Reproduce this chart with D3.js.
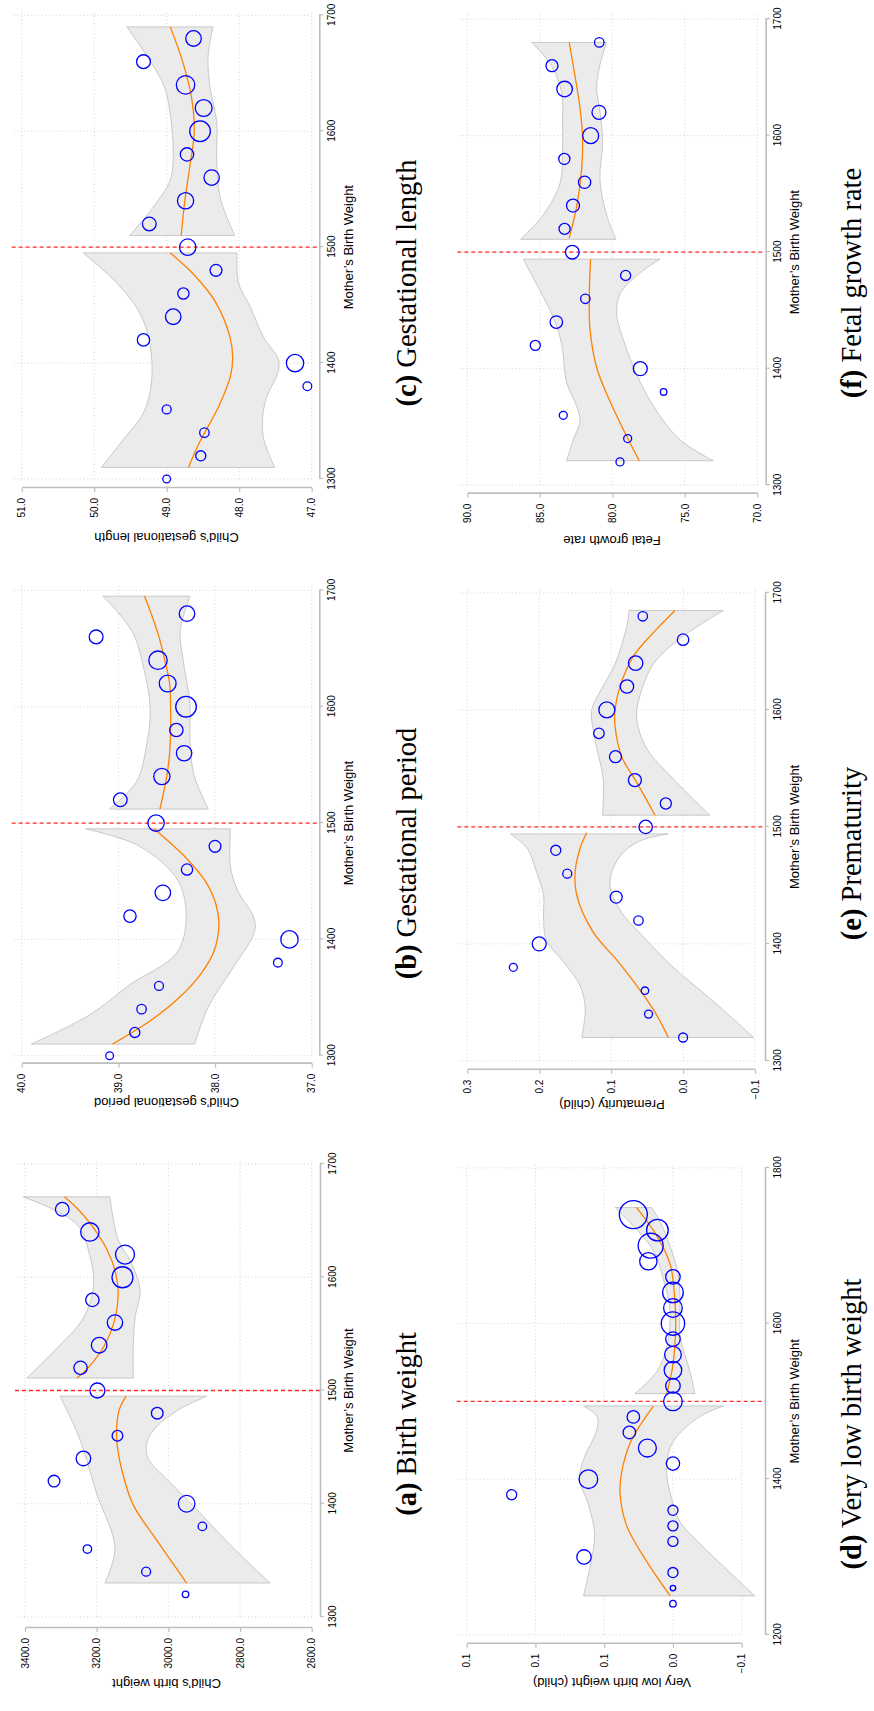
<!DOCTYPE html>
<html><head><meta charset="utf-8">
<script src="https://cdn.jsdelivr.net/npm/d3@7"></script>
<style>body{margin:0;background:#fff} svg{display:block}</style>
</head><body>
<svg id="fig" width="874" height="1711"></svg>
<script>
// ---------------- DATA ----------------
const xTicksMain = [1300, 1400, 1500, 1600, 1700];
const xTicksD = [1200, 1400, 1600, 1800];
const cutoff = 1500;

const bins20 = [1300,1320,1340,1360,1380,1400,1420,1440,1460,1480,1500,1520,1540,1560,1580,1600,1620,1640,1660,1680];
const bins19 = bins20.slice(1);
const bins18 = bins20.slice(1, 19);
const bins26 = [1240,1260,1280,1300,1320,1340,1360,1380,1400,1420,1440,1460,1480,1500,1520,1540,1560,1580,1600,1620,1640,1660,1680,1700,1720,1740];
const countsCommon = [14,24,21,19,18,71,36,57,30,33,63,44,62,56,42,100,67,80,45,57];

// (a) Birth weight
const yTicksA = [3400, 3200, 3000, 2800, 2600];
const yLabelsA = ["3400.0","3200.0","3000.0","2800.0","2600.0"];
const valuesA = [2952,3062,3226,2905,2949,3319,3237,3142,3031,3198,3245,3193,3149,3212,3128,3121,3219,3296];
const countsA = [10,19,17,17,65,32,50,27,32,53,42,57,56,42,104,85,80,44];
const fitLeftA = [[1330,2949],[1368,3033],[1399,3098],[1430,3130],[1457,3144],[1482,3138],[1495,3118]];
const fitRightA = [[1511,3255],[1520,3224],[1540,3178],[1560,3152],[1585,3140],[1605,3148],[1625,3172],[1645,3212],[1660,3252],[1671,3290]];
const bandLeftUpA = [[1330,3177],[1361,3149],[1409,3200],[1444,3233],[1464,3256],[1495,3302]];
const bandLeftLoA = [[1330,2716],[1361,2819],[1392,2912],[1416,2986],[1440,3056],[1454,3060],[1468,3033],[1482,2977],[1495,2893]];
const bandRightUpA = [[1511,3395],[1537,3312],[1564,3237],[1592,3209],[1619,3219],[1647,3256],[1671,3405]];
const bandRightLoA = [[1511,3098],[1537,3098],[1564,3093],[1588,3079],[1612,3102],[1633,3140],[1671,3163]];

// (b) Gestational period
const yTicksB = [40, 39, 38, 37];
const yLabelsB = ["40.0","39.0","38.0","37.0"];
const valuesB = [39.09,38.83,38.76,38.58,37.35,37.23,38.88,38.54,38.29,38.00,38.61,38.98,38.55,38.32,38.40,38.30,38.49,38.59,39.23,38.29];
const fitLeftB = [[1310,39.06],[1330,38.67],[1350,38.37],[1370,38.15],[1390,38.01],[1413,37.96],[1430,37.99],[1450,38.10],[1470,38.30],[1495,38.63]];
const fitRightB = [[1512,38.57],[1540,38.50],[1560,38.47],[1580,38.46],[1600,38.46],[1620,38.47],[1640,38.52],[1660,38.58],[1680,38.66],[1695,38.73]];
const bandLeftUpB = [[1310,39.90],[1335,39.30],[1361,38.88],[1388,38.40],[1416,38.30],[1450,38.38],[1480,38.78],[1495,39.34]];
const bandLeftLoB = [[1310,38.21],[1342,38.07],[1376,37.81],[1407,37.59],[1419,37.60],[1441,37.76],[1462,37.84],[1495,37.84]];
const bandRightUpB = [[1512,39.09],[1536,38.81],[1566,38.71],[1597,38.67],[1634,38.74],[1665,38.86],[1695,39.16]];
const bandRightLoB = [[1512,38.07],[1542,38.22],[1573,38.26],[1603,38.26],[1640,38.33],[1665,38.36],[1695,38.26]];

// (c) Gestational length
const yTicksC = [51, 50, 49, 48, 47];
const yLabelsC = ["51.0","50.0","49.0","48.0","47.0"];
const valuesC = [49.00,48.53,48.48,49.00,47.06,47.23,49.32,48.91,48.77,48.32,48.71,49.24,48.74,48.38,48.72,48.54,48.49,48.74,49.32,48.63];
const fitLeftC = [[1310,48.70],[1330,48.56],[1363,48.28],[1389,48.12],[1405,48.09],[1423,48.13],[1453,48.33],[1476,48.62],[1495,48.95]];
const fitRightC = [[1510,48.80],[1540,48.75],[1570,48.68],[1600,48.62],[1630,48.66],[1660,48.78],[1690,48.95]];
const bandLeftUpC = [[1310,49.90],[1334,49.60],[1357,49.32],[1383,49.21],[1416,49.23],[1443,49.37],[1469,49.69],[1495,50.15]];
const bandLeftLoC = [[1310,47.51],[1337,47.67],[1367,47.64],[1393,47.46],[1403,47.46],[1423,47.67],[1449,47.85],[1469,48.01],[1495,48.03]];
const bandRightUpC = [[1510,49.51],[1535,49.18],[1558,48.95],[1581,48.91],[1614,48.95],[1641,49.05],[1690,49.55]];
const bandRightLoC = [[1510,48.06],[1542,48.26],[1575,48.31],[1608,48.31],[1637,48.40],[1664,48.43],[1690,48.36]];

// (d) Very low birth weight
const yTicksD = [0.15, 0.10, 0.05, 0.00, -0.05];
const yLabelsD = ["0.1","0.1","0.1","0.0","\u22120.1"];
const valuesD = [0,0,0,0.0647,0,0,0,0.1173,0.0615,0,0.0186,0.0317,0.0288,0,0,0,0,0,0,0,0,0,0.0179,0.0162,0.0113,0.0288];
const countsD = [10,7,24,49,24,24,24,24,82,42,76,37,37,82,50,73,65,50,129,82,100,50,71,147,110,185];
const fitLeftD = [[1250,0.002],[1294,0.019],[1340,0.0336],[1382,0.0385],[1409,0.0373],[1446,0.0312],[1469,0.024],[1494,0.0142]];
const fitRightD = [[1510,0.0045],[1547,0.0],[1598,-0.002],[1639,-0.001],[1676,0.002],[1713,0.0118],[1749,0.0264]];
const bandLeftUpD = [[1250,0.065],[1290,0.060],[1330,0.057],[1370,0.062],[1400,0.068],[1430,0.064],[1460,0.056],[1480,0.055],[1494,0.065]];
const bandLeftLoD = [[1250,-0.0597],[1280,-0.0415],[1317,-0.0197],[1345,-0.0052],[1382,0.002],[1409,0.0045],[1441,0.002],[1464,-0.0076],[1483,-0.022],[1494,-0.0367]];
const bandRightUpD = [[1510,0.0276],[1538,0.0118],[1570,0.0045],[1616,0.0021],[1657,0.007],[1694,0.0142],[1749,0.042]];
const bandRightLoD = [[1510,-0.016],[1538,-0.0124],[1584,-0.0052],[1625,-0.0052],[1662,-0.004],[1699,0.002],[1731,0.0094],[1749,0.0155]];

// (e) Prematurity
const yTicksE = [0.3, 0.2, 0.1, 0.0, -0.1];
const yLabelsE = ["0.3","0.2","0.1","0.0","\u22120.1"];
const valuesE = [0.0,0.048,0.053,0.236,0.200,0.062,0.093,0.161,0.177,0.052,0.024,0.067,0.094,0.117,0.106,0.078,0.066,0.0,0.056];
const countsE = [19,15,13,15,46,21,34,19,24,42,29,40,34,26,60,42,49,31,21];
const fitLeftE = [[1320,0.0205],[1344,0.0414],[1383,0.0877],[1410,0.125],[1442,0.148],[1462,0.150],[1482,0.143],[1495,0.134]];
const fitRightE = [[1510,0.039],[1538,0.0645],[1560,0.0854],[1587,0.0947],[1600,0.0947],[1620,0.0877],[1646,0.069],[1669,0.0367],[1685,0.0112]];
const bandLeftUpE = [[1320,0.141],[1344,0.136],[1364,0.143],[1383,0.164],[1403,0.190],[1423,0.194],[1442,0.194],[1462,0.204],[1482,0.217],[1494,0.24]];
const bandLeftLoE = [[1320,-0.098],[1351,-0.042],[1380,0.0136],[1406,0.055],[1429,0.0877],[1452,0.102],[1475,0.0877],[1488,0.06],[1494,0.0205]];
const bandRightUpE = [[1510,0.112],[1541,0.111],[1573,0.122],[1600,0.127],[1616,0.115],[1639,0.0947],[1671,0.0785],[1685,0.075]];
const bandRightLoE = [[1510,-0.0374],[1541,0.0136],[1567,0.0506],[1593,0.0645],[1612,0.06],[1639,0.0414],[1661,0.0043],[1685,-0.056]];

// (f) Fetal growth rate
const yTicksF = [90, 85, 80, 75, 70];
const yLabelsF = ["90.0","85.0","80.0","75.0","70.0"];
const valuesF = [79.47,78.94,83.38,76.46,78.07,85.31,83.86,81.86,79.08,82.76,83.29,82.71,81.91,83.31,81.49,80.92,83.29,84.16,80.90];
const countsF = [15,15,15,10,46,24,37,21,24,44,29,40,36,29,60,46,57,34,21];
const fitLeftF = [[1321,78.14],[1342,79.01],[1372,80.16],[1401,81.08],[1434,81.54],[1460,81.59],[1494,81.50]];
const fitRightF = [[1512,82.97],[1539,82.46],[1572,82.11],[1598,82.05],[1624,82.23],[1651,82.57],[1680,82.97]];
const bandLeftUpF = [[1321,83.15],[1339,82.69],[1355,82.23],[1368,82.46],[1388,83.15],[1421,83.49],[1444,84.07],[1467,84.99],[1494,86.14]];
const bandLeftLoF = [[1321,73.03],[1339,75.33],[1368,77.17],[1395,78.32],[1421,79.13],[1447,79.70],[1464,79.47],[1480,78.32],[1494,76.71]];
const bandRightUpF = [[1511,86.32],[1532,84.76],[1559,83.61],[1585,83.43],[1611,83.43],[1637,83.49],[1661,84.25],[1680,85.56]];
const bandRightLoF = [[1511,79.75],[1532,80.39],[1562,80.85],[1595,80.67],[1621,80.85],[1641,81.08],[1661,80.85],[1680,80.39]];

const xTitle = "Mother\u2019s Birth Weight";

// ---------------- PANELS (data + layout) ----------------
const panels = [
  {tag:"(a)", cap:" Birth weight", yTitle:"Child\u2019s birth weight",
   bins:bins18, vals:valuesA, counts:countsA, xTicks:xTicksMain, yTicks:yTicksA, yLabels:yLabelsA,
   fitL:fitLeftA, fitR:fitRightA, bLU:bandLeftUpA, bLL:bandLeftLoA, bRU:bandRightUpA, bRL:bandRightLoA,
   L:{x0:94, x1:547, yTop:25, yBot:311.7, yAxis:83, xAxis:320, yTitleX:31.6, yTitleC:166.5, row:0, capC:287}},
  {tag:"(b)", cap:" Gestational period", yTitle:"Child\u2019s gestational period",
   bins:bins20, vals:valuesB, counts:countsCommon, xTicks:xTicksMain, yTicks:yTicksB, yLabels:yLabelsB,
   fitL:fitLeftB, fitR:fitRightB, bLU:bandLeftUpB, bLL:bandLeftLoB, bRU:bandRightUpB, bRL:bandRightLoB,
   L:{x0:655.3, x1:1120.6, yTop:21.7, yBot:311.7, yAxis:647.4, xAxis:319.3, yTitleX:612.6, yTitleC:166.5, row:0, capC:857.5}},
  {tag:"(c)", cap:" Gestational length", yTitle:"Child\u2019s gestational length",
   bins:bins20, vals:valuesC, counts:countsCommon, xTicks:xTicksMain, yTicks:yTicksC, yLabels:yLabelsC,
   fitL:fitLeftC, fitR:fitRightC, bLU:bandLeftUpC, bLL:bandLeftLoC, bRU:bandRightUpC, bRL:bandRightLoC,
   L:{x0:1232, x1:1695.7, yTop:21.7, yBot:311.7, yAxis:1223, xAxis:319.3, yTitleX:1178.5, yTitleC:166.5, row:0, capC:1428}},
  {tag:"(d)", cap:" Very low birth weight", yTitle:"Very low birth weight (child)",
   bins:bins26, vals:valuesD, counts:countsD, xTicks:xTicksD, yTicks:yTicksD, yLabels:yLabelsD,
   fitL:fitLeftD, fitR:fitRightD, bLU:bandLeftUpD, bLL:bandLeftLoD, bRU:bandRightUpD, bRL:bandRightLoD,
   L:{x0:76.2, x1:543.1, yTop:466.7, yBot:741.7, yAxis:67.3, xAxis:765, yTitleX:33, yTitleC:612, row:1, capC:287}},
  {tag:"(e)", cap:" Prematurity", yTitle:"Prematurity (child)",
   bins:bins19, vals:valuesE, counts:countsE, xTicks:xTicksMain, yTicks:yTicksE, yLabels:yLabelsE,
   fitL:fitLeftE, fitR:fitRightE, bLU:bandLeftUpE, bLL:bandLeftLoE, bRU:bandRightUpE, bRL:bandRightLoE,
   L:{x0:650.1, x1:1118.1, yTop:467.3, yBot:755, yAxis:641.3, xAxis:765, yTitleX:611, yTitleC:612, row:1, capC:857.5}},
  {tag:"(f)", cap:" Fetal growth rate", yTitle:"Fetal growth rate",
   bins:bins19, vals:valuesF, counts:countsF, xTicks:xTicksMain, yTicks:yTicksF, yLabels:yLabelsF,
   fitL:fitLeftF, fitR:fitRightF, bLU:bandLeftUpF, bLL:bandLeftLoF, bRU:bandRightUpF, bRL:bandRightLoF,
   L:{x0:1225.8, x1:1691.9, yTop:467.3, yBot:757.3, yAxis:1217.4, xAxis:765.7, yTitleX:1175, yTitleC:612, row:1, capC:1428}}
];

const rowText = [{xLab:336, xTitle:352.5, cap:415.5},{xLab:782, xTitle:798.5, cap:861}];

const SANS = "'Liberation Sans', Arial, Helvetica, sans-serif";
const SERIF = "'Liberation Serif', 'Times New Roman', Times, serif";
const rScale = d3.scaleSqrt().domain([0, 100]).range([0, 10.3]);

const svg = d3.select("#fig");
svg.append("rect").attr("width", 874).attr("height", 1711).attr("fill", "#fff");
const root = svg.append("g").attr("transform", "translate(0,1711) rotate(-90)");

function drawPanel(p) {
  const L = p.L;
  const xt = p.xTicks, yt = p.yTicks;
  const x = d3.scaleLinear().domain([xt[0], xt[xt.length - 1]]).range([L.x0, L.x1]);
  const y = d3.scaleLinear().domain([yt[0], yt[yt.length - 1]]).range([L.yTop, L.yBot]);
  const g = root.append("g");

  // grid
  g.append("g").selectAll("line").data(xt).join("line")
    .attr("x1", d => x(d)).attr("x2", d => x(d))
    .attr("y1", L.yTop - 8).attr("y2", L.yBot)
    .attr("stroke", "#cfcfcf").attr("stroke-width", 0.9).attr("stroke-dasharray", "1,2.5");
  g.append("g").selectAll("line").data(yt).join("line")
    .attr("x1", L.x0).attr("x2", L.x1 + 5)
    .attr("y1", d => y(d)).attr("y2", d => y(d))
    .attr("stroke", "#cfcfcf").attr("stroke-width", 0.9).attr("stroke-dasharray", "1,2.5");

  // bands
  const lineGen = d3.line().x(d => x(d[0])).y(d => y(d[1])).curve(d3.curveCatmullRom.alpha(0.5));
  function bandPath(up, lo) {
    const a = lineGen(up);
    const b = lineGen(lo.slice().reverse());
    return a + "L" + b.slice(1) + "Z";
  }
  [[p.bLU, p.bLL], [p.bRU, p.bRL]].forEach(([u, l]) => {
    g.append("path").attr("d", bandPath(u, l))
      .attr("fill", "#ebebeb").attr("stroke", "#bdbdbd").attr("stroke-width", 0.8);
  });

  // fits
  [p.fitL, p.fitR].forEach(f => {
    g.append("path").attr("d", lineGen(f)).attr("fill", "none")
      .attr("stroke", "#ff8000").attr("stroke-width", 1.3);
  });

  // cutoff
  g.append("line").attr("x1", x(cutoff)).attr("x2", x(cutoff))
    .attr("y1", L.yTop - 10).attr("y2", L.xAxis)
    .attr("stroke", "#ff2a2a").attr("stroke-width", 1.3).attr("stroke-dasharray", "4,3");

  // points
  g.append("g").selectAll("circle").data(p.bins.map((b, i) => [b, p.vals[i], p.counts[i]])).join("circle")
    .attr("cx", d => x(d[0])).attr("cy", d => y(d[1])).attr("r", d => rScale(d[2]))
    .attr("fill", "none").attr("stroke", "#0000ff").attr("stroke-width", 1.3);

  // axes
  const xa = g.append("g").attr("transform", `translate(0,${L.xAxis})`)
    .call(d3.axisBottom(x).tickValues(xt).tickSize(4).tickSizeOuter(0).tickPadding(4.5).tickFormat(d3.format("d")));
  const ya = g.append("g").attr("transform", `translate(${L.yAxis},0)`)
    .call(d3.axisLeft(y).tickValues(yt).tickSize(4).tickSizeOuter(0).tickPadding(6).tickFormat((d, i) => p.yLabels[i]));
  [xa, ya].forEach(a => {
    a.select(".domain").attr("stroke", "#bebebe").attr("stroke-width", 1.6);
    a.selectAll(".tick line").attr("stroke", "#bebebe").attr("stroke-width", 1.2);
    a.selectAll(".tick text").attr("fill", "#000").attr("font-size", 10).attr("font-family", SANS);
  });

  const rt = rowText[L.row];
  // x title
  g.append("text").attr("x", (L.x0 + L.x1) / 2).attr("y", rt.xTitle)
    .attr("text-anchor", "middle").attr("font-family", SANS).attr("font-size", 13).text(xTitle);
  // y title
  g.append("text").attr("transform", `translate(${L.yTitleX},${L.yTitleC}) rotate(-90)`)
    .attr("text-anchor", "middle").attr("font-family", SANS).attr("font-size", 13).text(p.yTitle);
  // caption
  const c = g.append("text").attr("x", L.capC).attr("y", rt.cap)
    .attr("text-anchor", "middle").attr("font-family", SERIF).attr("font-size", 28.5);
  c.append("tspan").attr("font-weight", "bold").text(p.tag);
  c.append("tspan").text(p.cap);
}

panels.forEach(drawPanel);
</script>
</body></html>
